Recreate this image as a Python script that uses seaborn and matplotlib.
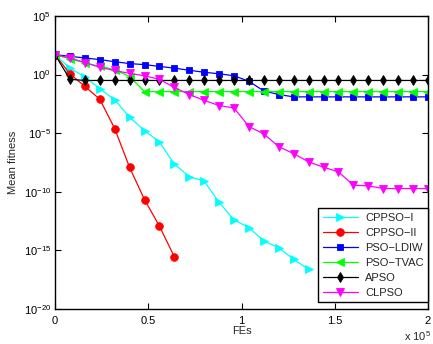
import numpy as np
import pandas as pd
import matplotlib
matplotlib.use("Agg")
import matplotlib.pyplot as plt
import seaborn as sns
from matplotlib.ticker import FixedLocator, FuncFormatter, NullLocator

# Function evaluations sampled every 8000 FEs
fes = [k * 8000 for k in range(26)]

# log10 of mean fitness for each algorithm
cppso_i = [1.7, 0.55, -0.2, -1.2, -2.15, -3.65, -4.77, -5.75, -7.64, -8.7,
           -9.09, -10.9, -12.4, -13.05, -14.2, -14.78, -15.77, -16.62]
cppso_ii = [1.7, 0.06, -1.0, -2.1, -4.6, -7.92, -10.67, -12.93, -15.55]
pso_ldiw = [1.7, 1.56, 1.42, 1.28, 1.1, 0.94, 0.85, 0.7, 0.55, 0.37, 0.2, 0.07,
            -0.1, -0.57, -1.4, -1.7, -1.9, -1.9, -1.9, -1.9, -1.9, -1.9, -1.9,
            -1.9, -1.9, -1.9]
pso_tvac = [1.7, 1.35, 1.0, 0.7, 0.43, -0.17, -1.45, -1.45, -1.45, -1.45, -1.45,
            -1.45, -1.45, -1.45, -1.45, -1.45, -1.45, -1.45, -1.45, -1.45, -1.45,
            -1.45, -1.45, -1.45, -1.45, -1.45]
apso = [1.7, -0.4, -0.5, -0.5, -0.5, -0.5, -0.5, -0.5, -0.5, -0.5, -0.5, -0.5,
        -0.5, -0.5, -0.5, -0.5, -0.5, -0.5, -0.5, -0.5, -0.5, -0.5, -0.5, -0.5,
        -0.5, -0.5]
clpso = [1.7, 1.42, 1.03, 0.62, 0.35, 0.1, -0.1, -0.4, -1.1, -1.7, -2.2, -2.64,
         -2.85, -4.43, -5.07, -6.15, -6.75, -7.45, -7.9, -8.3, -9.44, -9.49,
         -9.72, -9.72, -9.72, -9.72]

names = ["CPPSO\u2212I", "CPPSO\u2212II", "PSO\u2212LDIW", "PSO\u2212TVAC", "APSO", "CLPSO"]
series = [cppso_i, cppso_ii, pso_ldiw, pso_tvac, apso, clpso]
colors = ["#00ffff", "#ff0000", "#0000ff", "#00ff00", "#000000", "#ff00ff"]
markers = [">", "o", "s", "<", "d", "v"]
sizes = [5.5, 5.5, 5.0, 5.5, 5.2, 5.5]

sns.set_style("ticks")
plt.rcParams["font.family"] = ["Liberation Sans", "DejaVu Sans"]
plt.rcParams["mathtext.fontset"] = "custom"
plt.rcParams["mathtext.rm"] = "Liberation Sans"
plt.rcParams["mathtext.it"] = "Liberation Sans"

fig = plt.figure(figsize=(4.33, 3.44), dpi=100)
ax = fig.add_axes([55 / 433, 35 / 344, 373 / 433, 293 / 344])

for name, vals, c, m, s in zip(names, series, colors, markers, sizes):
    d = pd.DataFrame({"FEs": fes[:len(vals)],
                      "Mean fitness": [10.0 ** v for v in vals]})
    sns.lineplot(data=d, x="FEs", y="Mean fitness", color=c, marker=m,
                 markersize=s, markeredgecolor=c, markerfacecolor=c,
                 markeredgewidth=0.6, linewidth=0.9, label=name, ax=ax)

ax.set_yscale("log")
ax.set_xlim(0, 200000)
ax.set_ylim(1e-20, 1e5)
ax.yaxis.set_major_locator(FixedLocator([10.0 ** p for p in range(-20, 6, 5)]))
ax.yaxis.set_minor_locator(NullLocator())
ax.xaxis.set_major_locator(FixedLocator([0, 50000, 100000, 150000, 200000]))
ax.xaxis.set_major_formatter(FuncFormatter(lambda v, p: f"{v / 1e5:g}"))

ax.tick_params(axis="both", which="major", direction="in", length=4, width=0.8,
               labelsize=8, top=True, right=True, pad=3, colors="black")
ax.tick_params(axis="x", pad=5)
for sp in ax.spines.values():
    sp.set_linewidth(1.0)
    sp.set_color("black")

ax.set_xlabel("FEs", fontsize=8, labelpad=0)
ax.set_ylabel("Mean fitness", fontsize=8, labelpad=4)
fig.text(431 / 433, 1 - 336 / 344, r"x 10$^{5}$", ha="right", va="center",
         fontsize=8)

leg = ax.legend(loc="lower right", bbox_to_anchor=(1.0, 0.024), borderaxespad=0,
                fontsize=8, frameon=True, fancybox=False, handlelength=3.2,
                labelspacing=0.45, borderpad=0.4, handletextpad=0.6)
leg.get_frame().set_edgecolor("black")
leg.get_frame().set_linewidth(1.0)
leg.get_frame().set_alpha(1.0)

fig.savefig("out.png", dpi=100)
